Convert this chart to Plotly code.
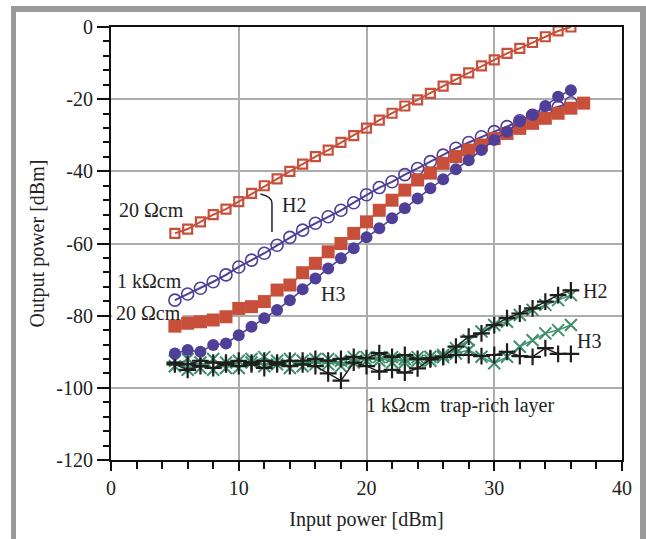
import plotly.graph_objects as go

# Input power sweep [dBm]
p_in_a = list(range(5, 37))   # 5 .. 36
p_in_b = list(range(5, 38))   # 5 .. 37

# 20 ohm-cm substrate, 2nd harmonic (open squares)
h2_20 = [-57.2, -56, -54, -52, -50.5, -48.4, -46.1, -44, -42.1, -40, -38, -35.9,
         -34.1, -32, -30.1, -28, -25.8, -23.9, -21.9, -20.2, -18.4, -16.4, -14.5,
         -12.7, -10.8, -9.1, -7.3, -5.9, -4.3, -2.7, -1.1, 0]
# 1 kohm-cm substrate, 2nd harmonic (open circles)
h2_1k = [-75.7, -74, -72.4, -70.6, -68.7, -66.5, -64.6, -62.7, -60.5, -58.3, -56.3,
         -54.4, -52.6, -50.8, -48.7, -46.5, -44.5, -42.9, -40.9, -39.2, -37.3, -35.5,
         -33.6, -32, -30.4, -29, -27.6, -26, -24.5, -23.3, -22.2, -21]
# 20 ohm-cm substrate, 3rd harmonic (filled squares)
h3_20 = [-82.9, -82.1, -81.7, -81.2, -80.3, -78, -77.5, -76.1, -72.9, -71.5, -68.1,
         -65.5, -62.3, -60, -57.2, -54, -50.8, -48, -45.2, -42.4, -40.5, -37.8, -35.9,
         -34.1, -32.7, -30.9, -29.5, -28.1, -26.7, -25.3, -23.9, -22.5, -21.1]
# 1 kohm-cm substrate, 3rd harmonic (filled circles)
h3_1k = [-90.5, -89.5, -90, -88.1, -87.7, -85.4, -83.1, -80.7, -78.4, -75.7, -72.7,
         -69.7, -66.9, -64.1, -61.3, -58.3, -55.8, -53, -50.2, -47.5, -44.7, -42.2,
         -39.4, -36.9, -34.1, -31.3, -29, -26.2, -24.4, -21.9, -19.3, -17.5]
# 1 kohm-cm with trap-rich layer: two sample sets (black +, green x)
tr_h2_a = [-93, -93.5, -92.5, -93, -93, -92.5, -93, -92.5, -93, -92.5, -92.5, -92,
           -92.5, -92, -91.4, -91.8, -90.4, -91.4, -90.9, -92, -91.8, -91.4, -88.6,
           -85.8, -84.9, -82.6, -80.7, -79.4, -78, -76.1, -74.3, -73]
tr_h3_a = [-93.5, -95, -94, -94.5, -93.5, -94, -93.5, -94.5, -93.5, -94, -93.5, -94,
           -96, -98, -93, -94, -95.5, -95, -95.8, -94.6, -92.1, -91.4, -90.9, -90.9,
           -91.2, -90.9, -90, -91.2, -91.4, -89, -90.6, -90.6]
tr_h2_b = [-94, -92, -94.5, -92, -94.5, -92.5, -93, -91.5, -93.5, -92, -94, -92,
           -93.5, -92.5, -91.5, -92.5, -91.5, -93, -92, -92.5, -91.4, -90.9, -89,
           -86.8, -84.4, -82.6, -81.7, -79.8, -78.4, -77, -75.7, -74.3]
tr_h3_b = [-92.5, -95, -93, -95, -93, -94.5, -92, -94, -92.5, -94.5, -92.5, -93.5,
           -92, -94, -93, -91.5, -92.5, -91.5, -93, -91.5, -92.5, -91.5, -90.5, -89.5,
           -91.4, -93.2, -91.4, -88.6, -86.8, -84.9, -84, -82.6]

# axis ticks
x_ticks = [0, 10, 20, 30, 40]
y_ticks = [-120, -100, -80, -60, -40, -20, 0]
y_tick_text = ["-120", "-100", "-80", "-60", "-40", "-20", "0"]

RED = "#c8503a"
PURPLE = "#4f3f98"
GREEN = "#3f8f6c"
BLACK = "#1e1e1e"
FONT = "Liberation Serif, Times New Roman, serif"

fig = go.Figure()


def add(x, y, color, symbol, size, lw=1.5, mlw=2):
    fig.add_trace(go.Scatter(
        x=x, y=y, mode="lines+markers",
        line=dict(color=color, width=lw),
        marker=dict(symbol=symbol, size=size, color=color,
                    line=dict(color=color, width=mlw)),
        showlegend=False, hoverinfo="skip"))


add(p_in_a, tr_h3_b, GREEN, "x-thin-open", 12, 1.5, 2)
add(p_in_a, tr_h2_b, GREEN, "x-thin-open", 12, 1.5, 2)
add(p_in_a, tr_h3_a, BLACK, "cross-thin-open", 12, 1.5, 2.2)
add(p_in_a, tr_h2_a, BLACK, "cross-thin-open", 12, 1.5, 2.2)
add(p_in_a, h2_20, RED, "square-open", 9, 2, 2.2)
add(p_in_a, h2_1k, PURPLE, "circle-open", 12, 2, 1.6)
add(p_in_b, h3_20, RED, "square", 13, 1.5, 0)
add(p_in_a, h3_1k, PURPLE, "circle", 12, 1.5, 0)

tf = dict(family=FONT, size=20, color="#222")
ann = [
    dict(x=3.2, y=-50.7, text="20 \u03a9cm"),
    dict(x=14.3, y=-49.3, text="H2"),
    dict(x=3.05, y=-70.4, text="1 k\u03a9cm"),
    dict(x=2.9, y=-79.3, text="20 \u03a9cm"),
    dict(x=17.4, y=-74, text="H3"),
    dict(x=37.9, y=-73.2, text="H2"),
    dict(x=37.4, y=-87, text="H3"),
    dict(x=19.9, y=-104.8, text="1 k\u03a9cm&nbsp;&nbsp;trap-rich layer", xanchor="left"),
]
for a in ann:
    base = dict(xref="x", yref="y", showarrow=False, font=tf, borderpad=0)
    base.update(a)
    fig.add_annotation(**base)

# white patch hiding the -80 gridline behind the lower "20 ohm-cm" label
fig.add_shape(type="rect", xref="x", yref="y", x0=0.1, x1=5.6, y0=-81, y1=-79,
              fillcolor="white", line=dict(width=0), layer="between")

# bracket linking the H2 label to both 2nd-harmonic curves
fig.add_shape(type="path", xref="x", yref="y",
              path="M 11.7 -46.3 Q 12.6 -47 12.6 -48.9 L 12.6 -56.8",
              line=dict(color="#222", width=1.5))

# grey outer frame
W, H = 646, 539
L, R, T, B = 111, 24, 27, 79
pw, ph = W - L - R, H - T - B


def px(x):
    return (x - L) / pw


def py(y):
    return (H - B - y) / ph


FRAME = "#9a9a9a"
for x0, y0, x1, y1 in [(11, 6, 16, 545), (11, 6, 646, 12), (640, 6, 646, 545)]:
    fig.add_shape(type="rect", xref="paper", yref="paper",
                  x0=px(x0), x1=px(x1), y0=py(y1), y1=py(y0),
                  fillcolor=FRAME, line=dict(width=0), layer="above")

axis_common = dict(
    showgrid=True, gridcolor="#adadad", gridwidth=2,
    showline=True, linecolor="#111", linewidth=2, mirror=True,
    ticks="outside", tickwidth=2, tickcolor="#111",
    zeroline=False, tickfont=tf,
)
fig.update_xaxes(range=[0, 40], tickvals=x_ticks, ticklen=9,
                 minor=dict(dtick=2, ticks="outside", ticklen=7, tickwidth=2,
                            tickcolor="#111", showgrid=False),
                 title=dict(text="Input power [dBm]", font=tf, standoff=14),
                 **axis_common)
fig.update_yaxes(range=[-120, 0], tickvals=y_ticks, ticktext=y_tick_text, ticklen=12,
                 minor=dict(dtick=4, ticks="outside", ticklen=6, tickwidth=2,
                            tickcolor="#111", showgrid=False),
                 title=dict(text="Output power [dBm]", font=tf, standoff=6),
                 **axis_common)

fig.update_layout(width=W, height=H, margin=dict(l=L, r=R, t=T, b=B),
                  plot_bgcolor="white", paper_bgcolor="white",
                  font=dict(family=FONT))

fig.write_html("out.html")
